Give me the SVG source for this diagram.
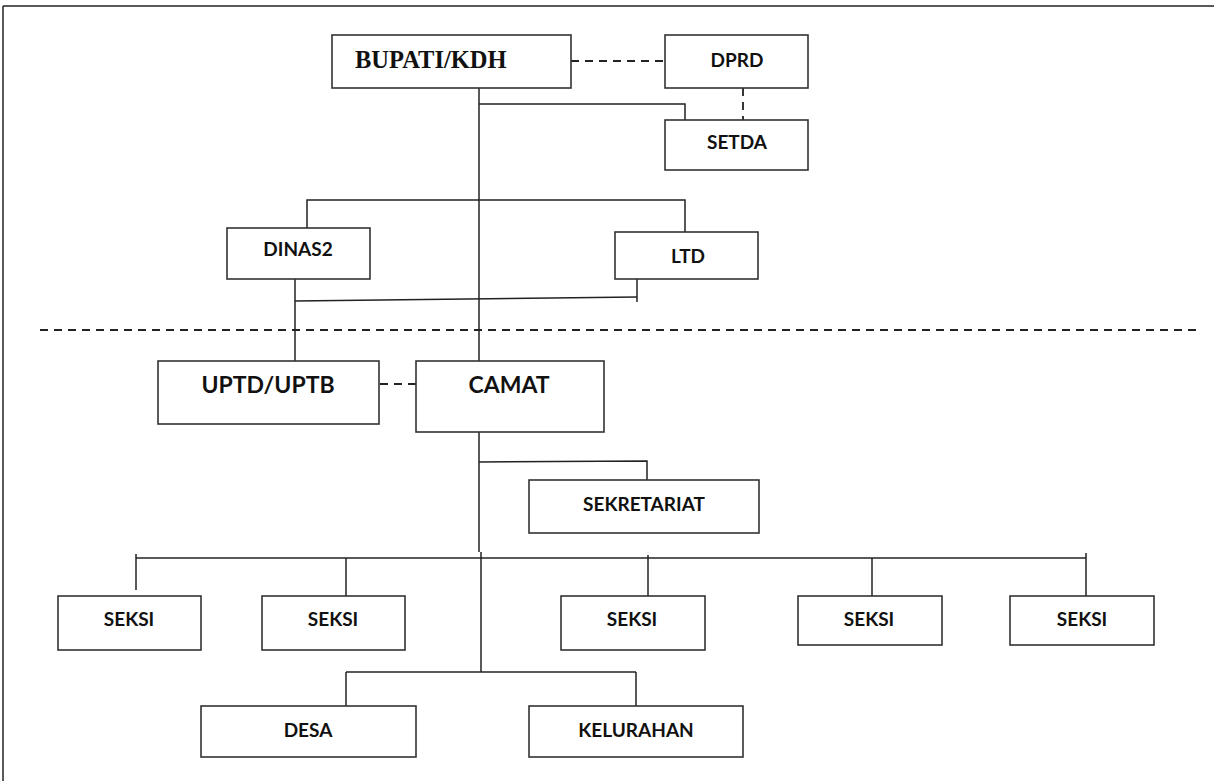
<svg xmlns="http://www.w3.org/2000/svg" width="1214" height="781" viewBox="0 0 1214 781">
<style>
.box{fill:#fff;stroke:#333;stroke-width:1.6}
.ln{fill:none;stroke:#222;stroke-width:1.5}
.dash{fill:none;stroke:#222;stroke-width:1.8;stroke-dasharray:8 6}
.t{font-family:Lato,"Open Sans","Liberation Sans",sans-serif;font-weight:bold;fill:#111;text-anchor:middle}
.s{font-size:19px}
.l{font-size:23px}
.serif{font-family:"Liberation Serif","DejaVu Serif",serif;font-weight:bold;font-size:24.5px;fill:#111}
</style>
<rect width="1214" height="781" fill="#fff"/>
<g id="frame" class="ln">
<line x1="3" y1="6" x2="1214" y2="6"/>
<line x1="3" y1="6" x2="3" y2="781"/>
</g>
<g id="connectors">
<line class="dash" x1="571" y1="61" x2="665" y2="61"/>
<line class="dash" x1="743" y1="88" x2="743" y2="120" stroke-dasharray="7 5"/>
<line class="ln" x1="479" y1="88" x2="479" y2="361"/>
<polyline class="ln" points="479,104 685,104 685,120"/>
<polyline class="ln" points="307,228 307,200 685,200 685,232"/>
<line class="ln" x1="295" y1="279" x2="295" y2="361"/>
<line class="ln" x1="295" y1="301" x2="637" y2="297"/>
<line class="ln" x1="637" y1="279" x2="637" y2="302"/>
<line class="dash" x1="40" y1="330" x2="1200" y2="330"/>
<line class="dash" x1="380" y1="384" x2="416" y2="384"/>
<line class="ln" x1="479" y1="432" x2="479" y2="552"/>
<polyline class="ln" points="479,462 647,461 647,480"/>
<line class="ln" x1="481" y1="552" x2="481" y2="672"/>
<line class="ln" x1="136" y1="558" x2="1086" y2="558"/>
<line class="ln" x1="136" y1="554" x2="136" y2="590"/>
<line class="ln" x1="346" y1="558" x2="346" y2="596"/>
<line class="ln" x1="648" y1="555" x2="648" y2="596"/>
<line class="ln" x1="872" y1="558" x2="872" y2="596"/>
<line class="ln" x1="1086" y1="553" x2="1086" y2="596"/>
<line class="ln" x1="346" y1="672" x2="636" y2="672"/>
<line class="ln" x1="346" y1="672" x2="346" y2="706"/>
<line class="ln" x1="636" y1="672" x2="636" y2="706"/>
</g>
<g id="bupati"><rect class="box" x="332" y="35" width="239" height="53"/><text class="serif" x="355" y="68">BUPATI/KDH</text></g>
<g id="dprd"><rect class="box" x="665" y="35" width="143" height="53"/><text class="t s" x="737" y="67">DPRD</text></g>
<g id="setda"><rect class="box" x="665" y="120" width="143" height="50"/><text class="t s" x="737" y="149">SETDA</text></g>
<g id="dinas2"><rect class="box" x="227" y="228" width="143" height="51"/><text class="t s" x="298" y="256">DINAS2</text></g>
<g id="ltd"><rect class="box" x="615" y="232" width="143" height="47"/><text class="t s" x="688" y="263">LTD</text></g>
<g id="uptd"><rect class="box" x="158" y="361" width="221" height="63"/><text class="t l" x="268" y="393">UPTD/UPTB</text></g>
<g id="camat"><rect class="box" x="416" y="361" width="188" height="71"/><text class="t l" x="509" y="393">CAMAT</text></g>
<g id="sekretariat"><rect class="box" x="529" y="480" width="230" height="53"/><text class="t s" x="644" y="511">SEKRETARIAT</text></g>
<g id="seksi1"><rect class="box" x="58" y="596" width="143" height="54"/><text class="t s" x="129" y="626">SEKSI</text></g>
<g id="seksi2"><rect class="box" x="262" y="596" width="143" height="54"/><text class="t s" x="333" y="626">SEKSI</text></g>
<g id="seksi3"><rect class="box" x="561" y="596" width="144" height="54"/><text class="t s" x="632" y="626">SEKSI</text></g>
<g id="seksi4"><rect class="box" x="798" y="596" width="144" height="49"/><text class="t s" x="869" y="626">SEKSI</text></g>
<g id="seksi5"><rect class="box" x="1010" y="596" width="144" height="49"/><text class="t s" x="1082" y="626">SEKSI</text></g>
<g id="desa"><rect class="box" x="201" y="706" width="215" height="51"/><text class="t s" x="308" y="737">DESA</text></g>
<g id="kelurahan"><rect class="box" x="529" y="706" width="214" height="51"/><text class="t s" x="636" y="737">KELURAHAN</text></g>
</svg>
